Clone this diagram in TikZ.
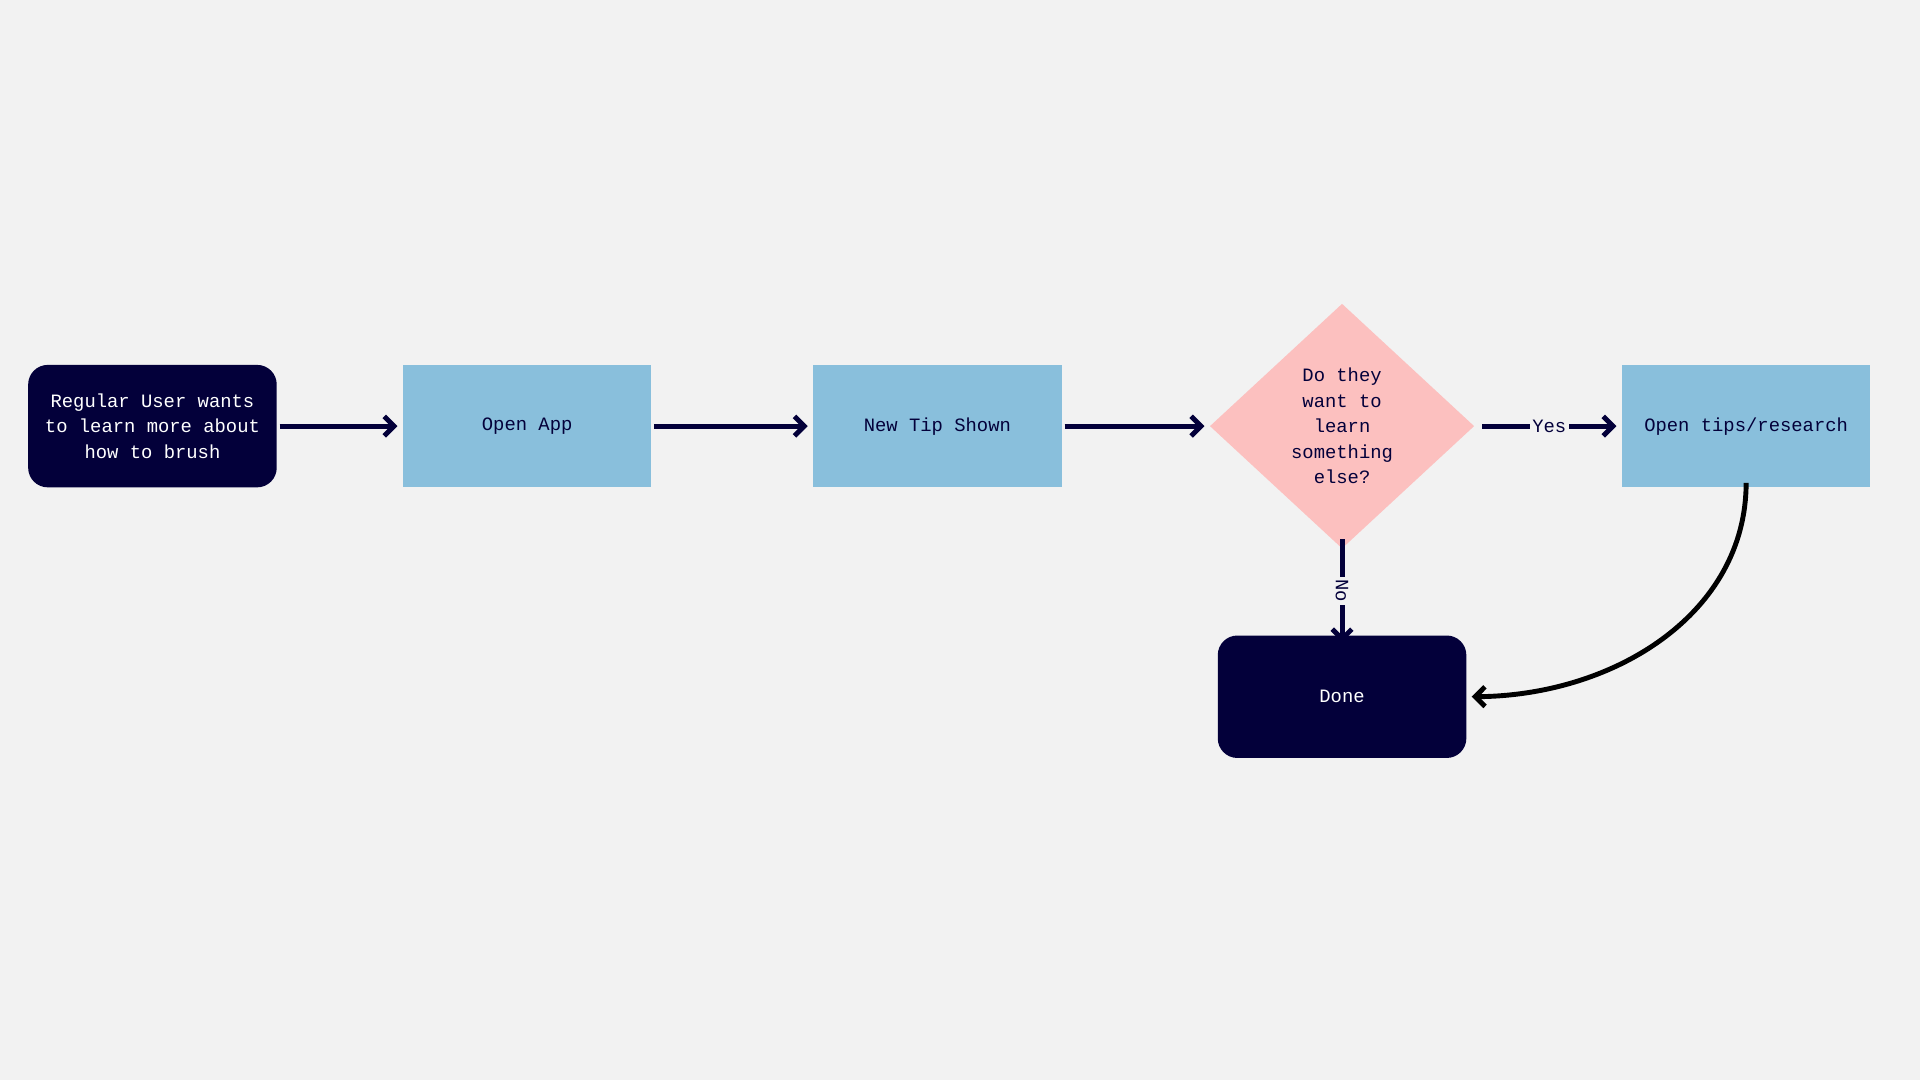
\documentclass[tikz,border=0pt]{standalone}
\usepackage{fontspec}
\setmonofont{Liberation Mono}
\usetikzlibrary{arrows.meta,shapes.geometric}
\definecolor{bg}{HTML}{F2F2F2}
\definecolor{dk}{HTML}{03003A}
\definecolor{bl}{HTML}{89BFDC}
\definecolor{pk}{HTML}{FCC0BF}
\begin{document}
\begin{tikzpicture}[x=0.5pt,y=-0.5pt,
  txt/.style={font=\ttfamily\fontsize{7.7}{10.4}\selectfont,align=center},
  dark/.style={txt,fill=dk,text=white,rounded corners=8pt,minimum width=101.5pt,minimum height=50pt,inner sep=0pt},
  box/.style={txt,fill=bl,text=dk,minimum width=101.5pt,minimum height=50pt,inner sep=0pt},
  arr/.style={draw=dk,line width=2pt,-{Straight Barb[length=4pt,width=8pt,line width=2pt]}},
  lab/.style={txt,text=dk,fill=bg,inner sep=1pt}]
\fill[bg] (0,0) rectangle (1568,882);
\useasboundingbox (0,0) rectangle (1568,882);
\node[dark] (s) at (124.5,348) {Regular User wants\\to learn more about\\how to brush};
\node[box] (a) at (430.5,348) {Open App};
\node[box] (t) at (765.5,348) {New Tip Shown};
\node[diamond,fill=pk,minimum width=108pt,minimum height=100pt,inner sep=0pt,txt,text=dk] (d) at (1096,348) {Do they\\want to\\learn\\something\\else?};
\node[box] (o) at (1426,348) {Open tips/research};
\node[dark] (e) at (1096,569) {Done};
\draw[arr] (s.east)++(2,0) -- ([xshift=-2]a.west);
\draw[arr] (a.east)++(2,0) -- ([xshift=-2]t.west);
\draw[arr] (t.east)++(2,0) -- ([xshift=-2]d.west);
\draw[arr] ([xshift=3]d.east) -- node[lab]{Yes} ([xshift=-2]o.west);
\draw[arr] ([yshift=4]d.south) -- node[lab,rotate=-90]{No} ([yshift=-3]e.north);
\draw[line width=2pt,black,-{Straight Barb[length=4pt,width=8pt,line width=2pt]}] ([yshift=2]o.south) .. controls (1426,500) and (1320,568) .. ([xshift=2]e.east);
\end{tikzpicture}
\end{document}
